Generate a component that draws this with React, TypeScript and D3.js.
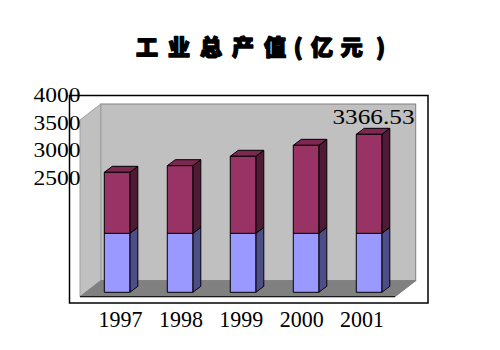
import React from "react";
import * as d3 from "d3";

const years = ["1997", "1998", "1999", "2000", "2001"];
const baseSeries = [1257, 1257, 1257, 1257, 1257];
const topSeries = [1300, 1441, 1641, 1875, 2109.53];
const axisTicks = [4000, 3500, 3000, 2500];
const totalLabel = "3366.53";
const titleChars = ["工", "业", "总", "产", "值", "(", "亿", "元", ")"];
const titleSlots = [0, 1, 2, 3, 4, 4.72, 5.47, 6.4, 7.3];

const W = 500;
const H = 350;

export default function App() {
  const DX = 8;
  const DY = -6;
  const WDX = 20.7;
  const WDY = -16;

  const floorFrontY = 296.7;
  const wallLeft = 80;
  const wallRight = 395;
  const y = d3.scaleLinear().domain([0, 4000]).range([292.3, 104.6]);
  const x = d3
    .scaleBand<string>()
    .domain(years)
    .range([104.3, 104.3 + 63 * 4 + 25.5])
    .paddingInner(0.595)
    .paddingOuter(0);
  const bw = x.bandwidth();
  const xl = d3.scalePoint<string>().domain(years).range([120.5, 362]);
  const yl = d3.scaleLinear().domain([2500, 4000]).range([184.5, 102]);
  const tx = d3.scaleLinear().domain([0, 1]).range([147, 179]);

  const stack = d3
    .stack<any>()
    .keys(["base", "top"])(
      years.map((yr, i) => ({ year: yr, base: baseSeries[i], top: topSeries[i] }))
    );

  const colors = {
    base: { front: "#9999FF", side: "#4D4D88", top: "#7A7ACC" },
    top: { front: "#993366", side: "#4E1A34", top: "#7D2752" },
  } as any;

  const pts = (a: number[][]) => a.map((p) => p.join(",")).join(" ");

  const backTop = 104;
  const backBottom = floorFrontY + WDY;

  return (
    <svg
      width={W}
      height={H}
      style={{ position: "absolute", left: 0, top: 0, background: "#fff" }}
    >
      {/* Title */}
      <g
        fontFamily="'Noto Sans CJK SC', sans-serif"
        fontWeight={900}
        fontSize={22}
        fill="#000"
        stroke="#000"
        strokeWidth={1.4}
        strokeLinejoin="round"
        textAnchor="middle"
      >
        {titleChars.map((c, i) => (
          <text key={i} x={tx(titleSlots[i])} y={55}>
            {c}
          </text>
        ))}
      </g>

      {/* Outer box */}
      <rect x={69.5} y={95.5} width={358.5} height={207.5} fill="none" stroke="#000" strokeWidth={1.5} />

      {/* Back wall */}
      <rect
        x={wallLeft + WDX}
        y={backTop}
        width={wallRight - wallLeft}
        height={backBottom - backTop}
        fill="#C0C0C0"
        stroke="#808080"
        strokeWidth={1}
      />
      {/* Left wall */}
      <polygon
        points={pts([
          [wallLeft, floorFrontY],
          [wallLeft, backTop - WDY],
          [wallLeft + WDX, backTop],
          [wallLeft + WDX, backBottom],
        ])}
        fill="#C0C0C0"
        stroke="#A0A0A0"
        strokeWidth={1}
      />
      {/* Floor */}
      <polygon
        points={pts([
          [wallLeft, floorFrontY],
          [wallLeft + WDX, backBottom],
          [wallRight + WDX, backBottom],
          [wallRight, floorFrontY],
        ])}
        fill="#808080"
        stroke="#808080"
        strokeWidth={1}
      />
      <line x1={wallLeft} y1={floorFrontY} x2={wallRight} y2={floorFrontY} stroke="#000" strokeWidth={1} />

      {/* Bars */}
      {years.map((yr, i) => (
        <g key={yr}>
          {stack.map((s) => {
            const d = s[i];
            const x0 = x(yr)!;
            const x1 = x0 + bw;
            const yb = y(d[0]);
            const yt = y(d[1]);
            const c = colors[s.key];
            return (
              <g key={s.key} stroke="#000" strokeWidth={1} strokeLinejoin="round">
                <polygon
                  points={pts([
                    [x1, yt],
                    [x1 + DX, yt + DY],
                    [x1 + DX, yb + DY],
                    [x1, yb],
                  ])}
                  fill={c.side}
                />
                <polygon
                  points={pts([
                    [x0, yt],
                    [x0 + DX, yt + DY],
                    [x1 + DX, yt + DY],
                    [x1, yt],
                  ])}
                  fill={c.top}
                />
                <rect x={x0} y={yt} width={bw} height={yb - yt} fill={c.front} />
              </g>
            );
          })}
        </g>
      ))}

      {/* Data label */}
      <text
        x={414.5}
        y={123.5}
        textAnchor="end"
        fontFamily="'Liberation Serif', serif"
        fontSize={22}
        fill="#000"
        textLength={82}
        lengthAdjust="spacingAndGlyphs"
      >
        {totalLabel}
      </text>

      {/* Y labels */}
      {axisTicks.map((t) => (
        <text
          key={t}
          x={80.5}
          y={yl(t)}
          textAnchor="end"
          fontFamily="'Liberation Serif', serif"
          fontSize={22}
          fill="#000"
          textLength={47}
          lengthAdjust="spacingAndGlyphs"
        >
          {t}
        </text>
      ))}

      {/* X labels */}
      {years.map((yr) => (
        <text
          key={yr}
          x={xl(yr)}
          y={327}
          textAnchor="middle"
          fontFamily="'Liberation Serif', serif"
          fontSize={23}
          fill="#000"
          textLength={44}
          lengthAdjust="spacingAndGlyphs"
        >
          {yr}
        </text>
      ))}
    </svg>
  );
}
